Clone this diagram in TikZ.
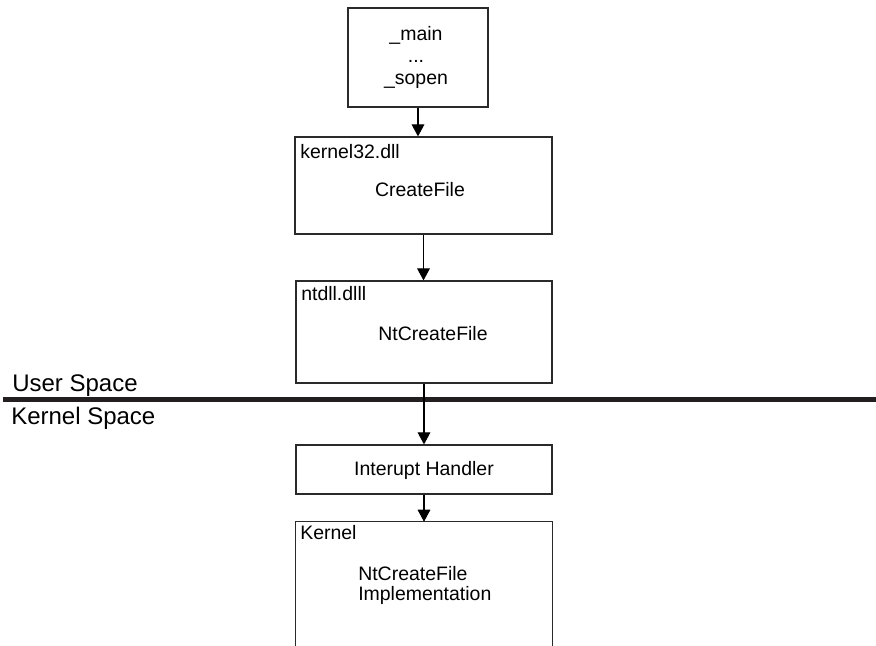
\documentclass[tikz,border=0pt]{standalone}
\usepackage{fontspec}
\setmainfont{Liberation Sans}
\usetikzlibrary{arrows.meta}
\definecolor{linegray}{HTML}{2A2A2A}
\definecolor{divider}{HTML}{231F20}
\begin{document}
\begin{tikzpicture}[x=0.75pt,y=-0.75pt,
  box/.style={draw=linegray,line width=0.9pt,inner sep=0pt,rectangle},
  txt/.style={inner sep=0pt,font=\fontsize{14.6}{16.5}\selectfont},
  big/.style={inner sep=0pt,font=\fontsize{18}{20}\selectfont},
  arr/.style={draw=black,line width=0.8pt,-{Triangle[width=9.5pt,length=9pt]}}]
\useasboundingbox (0,0) rectangle (876,646);
% boxes
\node[box,minimum width=105pt,minimum height=74.25pt] (b1) at (418,57.5) {};
\node[box,minimum width=192.75pt,minimum height=72.75pt] (b2) at (423.5,185.5) {};
\node[box,minimum width=192pt,minimum height=76.5pt] (b3) at (424,332) {};
\node[box,minimum width=192pt,minimum height=36.75pt] (ih) at (424,469.5) {};
\node[inner sep=0pt,minimum width=192pt,minimum height=93pt] (kern) at (424,584) {};
\draw[linegray,line width=0.9pt] (kern.south west) |- (kern.north) -| (kern.south east);
% texts
\node[txt,align=center] (t1) at (416,57) {\_main\\...\\\_sopen};
\node[txt,anchor=base west] (l2) at (300,158) {kernel32.dll};
\node[txt,anchor=base] (t2) at (420,196) {CreateFile};
\node[txt,anchor=base west] (l3) at (301,300) {ntdll.dlll};
\node[txt,anchor=base] (t3) at (433,340) {NtCreateFile};
\node[txt,anchor=base] (t4) at (424,475) {Interupt Handler};
\node[txt,anchor=base west] (l5) at (300,539) {Kernel};
\node[txt,anchor=north west,align=left,font=\fontsize{14.6}{15}\selectfont] (t5) at (358,566) {NtCreateFile\\Implementation};
% divider
\node[big,anchor=base west] (us) at (12,391) {User Space};
\node[big,anchor=base west] (ks) at (11,424) {Kernel Space};
\coordinate (dl) at (3,399.5);
\coordinate (dr) at (876,399.5);
\draw[divider,line width=4.2pt] (dl) -- (dr);
% arrows
\draw[arr] (b1.south) -- (b1.south |- b2.north);
\draw[arr] (b2.south) -- (b2.south |- b3.north);
\draw[arr] (b3.south) -- (ih.north);
\draw[arr] (ih.south) -- (kern.north);
\end{tikzpicture}
\end{document}
